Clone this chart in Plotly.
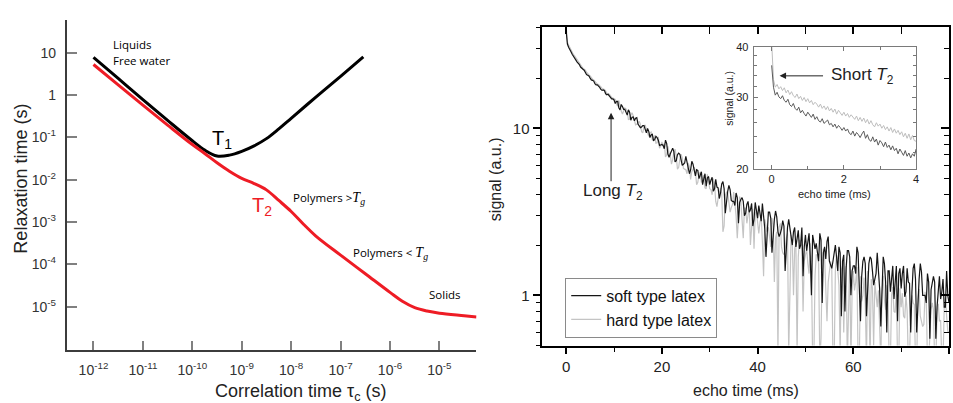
import plotly.graph_objects as go

W, H = 953, 403
FONT = "Liberation Sans, Arial, sans-serif"
NOTE_FONT = "Open Sans, sans-serif"

# ---------------- Left panel: relaxation time vs correlation time ----------------
# log10 values
tau_T1_exp = [-12, -11.5, -11, -10.5, -10, -9.75, -9.5, -9.25, -9, -8.75, -8.5, -8.25, -8, -7.5, -7, -6.54]
T1_exp = [0.89, 0.39, -0.11, -0.6, -1.08, -1.3, -1.44, -1.42, -1.33, -1.2, -1.03, -0.8, -0.55, -0.05, 0.44, 0.9]

tau_T2_exp = [-12, -11.5, -11, -10.5, -10, -9.75, -9.5, -9.25, -9, -8.75, -8.5, -8.25, -8,
              -7.75, -7.5, -7, -6.5, -6, -5.75, -5.5, -5.25, -5, -4.5, -4.25]
T2_exp = [0.72, 0.24, -0.24, -0.71, -1.17, -1.38, -1.6, -1.8, -1.97, -2.09, -2.24, -2.49, -2.75,
          -3.05, -3.33, -3.78, -4.22, -4.66, -4.87, -5.02, -5.1, -5.15, -5.21, -5.24]

left_x_exp = [-12, -11, -10, -9, -8, -7, -6, -5]
left_y_exp = [-5, -4, -3, -2, -1, 0, 1]
left_y_text = ["10<sup>-5</sup>", "10<sup>-4</sup>", "10<sup>-3</sup>", "10<sup>-2</sup>",
               "10<sup>-1</sup>", "1", "10"]

# ---------------- Right panel: echo decay (0.25 ms sampling) ----------------
echo_t = [round(0.25 * i, 2) for i in range(321)]  # 0 ... 80 ms

# values at t = 0, 0.5, 1.0, ... 80
soft_even = [
    38.0, 30.6, 28.8, 27.2, 25.7, 24.6, 23.3, 22.6, 21.5, 20.8, 20.0, 19.4, 18.5, 18.2, 17.6, 16.9, 16.8, 15.9, 15.6, 15.0, 14.8,
    14.5, 13.3, 13.9, 13.0, 12.4, 12.9, 11.2, 11.7, 11.5, 10.6, 10.1, 10.4, 9.9, 10.0, 8.8, 9.2, 8.6, 8.8, 7.9, 8.0,
    7.55, 8.1, 6.7, 7.45, 7.25, 6.4, 7.1, 6.5, 6.1, 6.8, 5.6, 5.65, 6.1, 5.2, 5.6, 5.25, 4.6, 5.35, 5.05, 4.6,
    5.1, 4.35, 4.45, 3.8, 4.65, 4.35, 3.7, 4.55, 3.7, 3.65, 4.1, 2.7, 3.75, 3.65, 3.1, 3.65, 3.25, 2.6, 3.6, 2.9,
    3.0, 3.55, 2.5, 2.65, 3.15, 1.8, 2.85, 2.95, 2.25, 2.5, 2.6, 2.0, 2.85, 2.15, 2.4, 1.95, 2.45, 2.0, 1.3, 2.3,
    2.2, 1.7, 2.3, 1.9, 1.75, 2.35, 0.9, 1.95, 2.1, 1.6, 1.45, 1.85, 1.7, 1.95, 0.75, 1.75, 1.45, 1.85, 1.0, 1.5,
    1.35, 1.8, 0.7, 1.6, 1.55, 1.15, 1.7, 1.4, 1.25, 1.8, 1.1, 1.2, 1.55, 0.6, 1.4, 1.25, 0.95, 1.5, 1.35, 1.1,
    1.5, 1.05, 1.2, 0.6, 1.45, 1.25, 0.9, 1.55, 1.0, 1.0, 1.35, 0.55, 1.2, 1.2, 0.85, 1.3, 1.05, 0.85, 1.4, 0.9,
]
# values at t = 0.25, 0.75, ... 79.75
soft_odd = [
    32.0, 29.9, 27.8, 26.6, 25.0, 24.1, 22.8, 22.3, 21.0, 20.6, 19.5, 19.2, 18.2, 18.0, 17.1, 17.0, 16.1, 16.0, 15.1, 15.0,
    14.1, 14.5, 12.9, 13.5, 13.0, 12.0, 12.5, 11.65, 11.1, 11.6, 10.3, 10.2, 10.4, 9.4, 9.6, 9.15, 8.4, 8.95, 8.5, 8.0,
    7.9, 8.5, 7.0, 7.05, 7.6, 6.3, 6.95, 7.0, 6.0, 6.2, 6.25, 5.35, 6.35, 5.45, 5.65, 5.0, 5.5, 4.9, 4.5, 5.15,
    4.9, 4.2, 4.95, 4.4, 4.1, 4.8, 3.1, 4.2, 4.3, 3.65, 3.45, 3.85, 3.6, 3.85, 3.0, 3.5, 3.15, 3.55, 2.85, 3.1,
    3.45, 2.78, 2.9, 1.7, 3.15, 2.9, 2.35, 3.2, 2.4, 2.35, 2.8, 1.4, 2.55, 2.5, 2.0, 2.55, 2.2, 1.9, 2.55, 1.95,
    1.85, 2.35, 1.0, 2.1, 2.05, 1.6, 2.15, 1.8, 1.65, 2.25, 1.5, 1.6, 2.0, 1.4, 1.8, 1.6, 0.8, 1.85, 1.7, 1.4,
    1.5, 1.95, 1.2, 1.3, 1.7, 0.75, 1.55, 1.65, 1.15, 1.35, 1.45, 0.65, 1.7, 1.2, 1.4, 1.05, 1.5, 1.15, 0.7, 1.45,
    1.35, 0.98, 1.45, 1.18, 1.05, 1.55, 0.6, 1.25, 1.38, 1.0, 0.9, 1.2, 1.08, 1.3, 0.55, 1.15, 0.95, 1.25, 0.85, 1.0,
]

hard_even = [
    40.5, 31.6, 29.5, 27.7, 26.5, 25.0, 24.1, 22.9, 22.3, 21.1, 20.6, 19.7, 19.1, 18.4, 18.1, 17.3, 17.1, 16.2, 16.0, 15.3, 15.1,
    14.1, 14.7, 12.7, 12.6, 13.1, 11.3, 12.0, 11.9, 10.5, 10.7, 10.6, 9.4, 10.5, 9.3, 9.4, 8.5, 9.05, 8.2, 7.6, 8.3,
    8.1, 6.95, 7.05, 6.1, 7.25, 6.8, 5.85, 7.0, 5.75, 5.65, 6.2, 4.95, 5.65, 5.5, 4.75, 5.45, 4.85, 4.4, 5.3, 4.35,
    4.0, 4.7, 3.4, 4.2, 4.1, 2.6, 4.15, 3.6, 3.35, 4.15, 3.0, 3.15, 3.65, 2.2, 3.3, 3.05, 2.0, 3.3, 3.05, 2.6,
    2.75, 2.1, 2.85, 2.4, 2.15, 2.9, 1.2, 2.4, 2.55, 1.95, 1.75, 2.2, 0.45, 2.3, 1.0, 2.05, 1.7, 2.1, 0.8, 1.75,
    1.55, 2.05, 0.4, 1.3, 1.75, 0.4, 1.55, 1.7, 0.7, 1.35, 1.45, 0.4, 1.75, 1.15, 1.4, 0.6, 1.5, 1.05, 0.4, 1.4,
    1.2, 0.4, 1.3, 1.0, 0.9, 1.4, 0.4, 1.1, 1.2, 0.85, 0.45, 1.05, 0.95, 1.15, 0.4, 1.0, 0.8, 1.1, 0.4, 0.85,
    0.75, 1.0, 0.4, 0.9, 0.9, 0.4, 0.95, 0.75, 0.65, 1.05, 0.4, 0.65, 0.9, 0.4, 0.8, 0.7, 0.4, 0.85, 0.75, 0.6,
]
hard_odd = [
    32.8, 30.5, 28.7, 27.2, 25.8, 24.6, 23.5, 22.6, 21.7, 20.9, 20.1, 19.5, 18.8, 18.3, 17.7, 17.2, 16.7, 16.1, 15.7, 15.2,
    14.9, 13.55, 13.45, 12.2, 13.25, 12.6, 11.35, 12.4, 10.95, 10.6, 11.05, 9.55, 10.2, 9.85, 8.95, 9.5, 8.8, 8.15, 8.9, 7.85,
    7.85, 6.75, 7.8, 6.95, 6.5, 7.5, 5.7, 6.55, 6.65, 5.7, 5.35, 5.9, 5.5, 5.85, 4.6, 5.3, 4.75, 5.25, 4.35, 4.6,
    4.3, 5.0, 3.65, 3.8, 4.4, 2.4, 3.95, 4.1, 3.15, 3.5, 3.65, 2.2, 3.9, 3.0, 3.35, 2.7, 3.4, 2.75, 1.9, 3.2,
    2.35, 2.95, 1.3, 2.6, 2.55, 1.95, 2.65, 2.2, 0.45, 2.7, 1.8, 1.9, 2.35, 1.0, 2.1, 1.9, 0.45, 2.15, 1.95, 1.6,
    1.9, 1.35, 1.5, 0.4, 1.75, 1.55, 0.55, 1.9, 1.2, 1.2, 1.6, 0.4, 1.4, 1.4, 0.45, 1.5, 1.2, 0.4, 1.6, 1.05,
    1.07, 1.48, 0.4, 0.92, 1.28, 0.4, 1.11, 1.25, 0.5, 0.97, 1.07, 0.4, 1.31, 0.82, 1.03, 0.4, 1.12, 0.79, 0.4, 1.1,
    1.03, 0.73, 0.81, 0.4, 1.0, 0.88, 0.4, 1.09, 0.68, 0.67, 0.94, 0.4, 0.82, 0.82, 0.4, 0.89, 0.71, 0.4, 0.97, 0.61,
]


def interleave(even, odd):
    out = []
    for a, b in zip(even, odd):
        out += [a, b]
    out.append(even[-1])
    return out


soft_signal = interleave(soft_even, soft_odd)
hard_signal = interleave(hard_even, hard_odd)

# ---------------- Inset: first 4 ms ----------------
inset_t = [round(0.05 * i, 2) for i in range(81)]
soft_inset = [
    36.0, 31.8, 30.4, 30.9, 30.1, 29.8, 30.3, 29.5, 29.2, 29.7,
    28.8, 28.5, 29.0, 28.2, 27.9, 28.4, 27.5, 27.9, 27.4, 27.0,
    27.6, 27.1, 26.8, 27.3, 26.5, 26.9, 26.3, 26.1, 26.6, 25.9,
    26.2, 26.4, 25.7, 25.9, 25.4, 25.8, 25.2, 25.6, 25.3, 24.9,
    25.3, 24.8, 25.1, 24.5, 24.3, 24.8, 24.1, 24.6, 24.3, 23.9,
    24.4, 24.8, 23.8, 24.3, 23.6, 23.4, 24.0, 23.3, 23.7, 22.9,
    23.5, 23.2, 22.7, 23.3, 22.6, 22.9, 22.3, 22.8, 22.2, 22.5,
    21.8, 22.4, 22.0, 21.6, 22.2, 21.5, 21.9, 21.3, 21.8, 21.5,
    22.4,
]
hard_inset = [
    41.0, 33.2, 31.8, 32.3, 31.5, 31.9, 31.2, 31.7, 30.8, 31.3,
    30.5, 31.0, 30.3, 30.0, 30.6, 29.8, 30.2, 29.5, 30.0, 29.3,
    29.8, 29.1, 29.5, 28.8, 29.2, 28.9, 28.4, 28.9, 28.2, 28.6,
    28.0, 28.5, 27.8, 28.2, 27.6, 28.1, 27.3, 27.9, 27.5, 27.1,
    27.6, 27.0, 27.4, 26.8, 27.2, 26.9, 26.5, 27.0, 26.3, 26.8,
    26.2, 26.7, 26.0, 26.5, 25.8, 26.3, 25.7, 25.4, 26.0, 25.5,
    25.8, 25.2, 25.6, 25.0, 25.4, 24.8, 25.3, 24.6, 25.1, 24.5,
    24.9, 24.3, 24.7, 24.0, 24.5, 23.8, 24.4, 23.6, 24.2, 23.5,
    23.4,
]

main_x_ticks = [0, 20, 40, 60, 80]
main_x_minor = [10, 30, 50, 70]
main_y_ticks = [1, 10]
main_y_minor = [0.5, 0.6, 0.7, 0.8, 0.9, 2, 3, 4, 5, 6, 7, 8, 9, 20, 30, 40]
inset_x_ticks = [0, 2, 4]
inset_y_ticks = [20, 30, 40]

# ---------------- Figure ----------------
fig = go.Figure()

fig.add_trace(go.Scatter(x=[10 ** e for e in tau_T1_exp], y=[10 ** e for e in T1_exp],
                         mode="lines", line=dict(color="black", width=3, shape="spline", smoothing=1),
                         xaxis="x", yaxis="y", showlegend=False))
fig.add_trace(go.Scatter(x=[10 ** e for e in tau_T2_exp], y=[10 ** e for e in T2_exp],
                         mode="lines", line=dict(color="#ee1c25", width=3, shape="spline", smoothing=1),
                         xaxis="x", yaxis="y", showlegend=False))

fig.add_trace(go.Scatter(x=echo_t, y=hard_signal, mode="lines", name="hard type latex",
                         line=dict(color="#c4c4c4", width=1.2), xaxis="x2", yaxis="y2", legendrank=2))
fig.add_trace(go.Scatter(x=echo_t, y=soft_signal, mode="lines", name="soft type latex",
                         line=dict(color="#161616", width=1.2), xaxis="x2", yaxis="y2", legendrank=1))

fig.add_trace(go.Scatter(x=inset_t, y=hard_inset, mode="lines", line=dict(color="#bdbdbd", width=1),
                         xaxis="x3", yaxis="y3", showlegend=False))
fig.add_trace(go.Scatter(x=inset_t, y=soft_inset, mode="lines", line=dict(color="#5a5a5a", width=1),
                         xaxis="x3", yaxis="y3", showlegend=False))

# dummy trace to realise the mirrored (inside-tick) axes of the main right panel
fig.add_trace(go.Scatter(x=[None], y=[None], xaxis="x5", yaxis="y5", showlegend=False, hoverinfo="skip"))


def dom_x(a, b):
    return [a / W, b / W]


def dom_y(top, bottom):
    return [1 - bottom / H, 1 - top / H]


tickfont_left = dict(family=FONT, size=14, color="#333333")
tickfont_right = dict(family=FONT, size=15, color="#222222")

fig.update_layout(
    width=W, height=H, autosize=False,
    margin=dict(l=0, r=0, t=0, b=0),
    paper_bgcolor="white", plot_bgcolor="rgba(0,0,0,0)",
    font=dict(family=FONT, color="black"),
    xaxis=dict(type="log", domain=dom_x(67, 478), anchor="y", range=[-12.54, -4.25],
               tickvals=[10 ** e for e in left_x_exp],
               ticktext=["10<sup>%d</sup>" % e for e in left_x_exp],
               ticks="inside", ticklen=9, tickwidth=1.5, tickcolor="#808080",
               showline=True, linecolor="#3c3c3c", linewidth=2, showgrid=False, zeroline=False,
               tickfont=tickfont_left, ticklabelstandoff=6),
    yaxis=dict(type="log", domain=dom_y(14, 355), anchor="x", range=[-6.03, 1.78],
               tickvals=[10 ** e for e in left_y_exp], ticktext=left_y_text,
               ticks="inside", ticklen=10, tickwidth=1.5, tickcolor="#808080",
               showline=True, linecolor="#3c3c3c", linewidth=2, showgrid=False, zeroline=False,
               tickfont=tickfont_left, ticklabelstandoff=6),
    xaxis2=dict(domain=dom_x(544, 952), anchor="y2", range=[-5, 80],
                tickvals=main_x_ticks, ticks="outside", ticklen=7, tickwidth=1.5, tickcolor="black",
                minor=dict(tickvals=main_x_minor, ticks="outside", ticklen=5, tickwidth=1.2, tickcolor="black"),
                showline=True, linecolor="black", linewidth=1.5, mirror=True,
                showgrid=False, zeroline=False, tickfont=tickfont_right),
    yaxis2=dict(type="log", domain=dom_y(22, 350), anchor="x2", range=[-0.301, 1.605],
                tickvals=main_y_ticks, ticktext=["1", "10"],
                ticks="outside", ticklen=8, tickwidth=1.5, tickcolor="black",
                minor=dict(tickvals=main_y_minor, ticks="outside", ticklen=5, tickwidth=1.2, tickcolor="black"),
                showline=True, linecolor="black", linewidth=1.5, mirror=True,
                showgrid=False, zeroline=False, tickfont=tickfont_right),
    xaxis5=dict(overlaying="x2", anchor="y2", side="top", range=[-5, 80],
                tickvals=main_x_ticks, ticks="inside", ticklen=7, tickwidth=1.5, tickcolor="black",
                minor=dict(tickvals=main_x_minor, ticks="inside", ticklen=7, tickwidth=1.2, tickcolor="black"),
                showticklabels=False, showline=False, showgrid=False, zeroline=False),
    yaxis5=dict(overlaying="y2", anchor="x2", side="right", type="log", range=[-0.301, 1.605],
                tickvals=main_y_ticks, ticks="inside", ticklen=8, tickwidth=1.5, tickcolor="black",
                minor=dict(tickvals=main_y_minor, ticks="inside", ticklen=5, tickwidth=1.2, tickcolor="black"),
                showticklabels=False, showline=False, showgrid=False, zeroline=False),
    xaxis3=dict(domain=dom_x(756, 919), anchor="y3", range=[-0.5, 4],
                tickvals=inset_x_ticks, ticks="inside", ticklen=4, tickwidth=1, tickcolor="#777777",
                minor=dict(tickvals=[1, 3], ticks="inside", ticklen=3, tickwidth=1, tickcolor="#777777"),
                showline=True, linecolor="#7a7a7a", linewidth=1, mirror="ticks",
                showgrid=False, zeroline=False, tickfont=dict(family=FONT, size=11, color="#222222")),
    yaxis3=dict(type="log", domain=dom_y(42, 168), anchor="x3", range=[1.30103, 1.60206],
                tickvals=inset_y_ticks, ticks="inside", ticklen=4, tickwidth=1, tickcolor="#777777",
                minor=dict(tickvals=[22, 24, 26, 28, 32, 34, 36, 38], ticks="inside", ticklen=3,
                           tickwidth=1, tickcolor="#777777"),
                showline=True, linecolor="#7a7a7a", linewidth=1, mirror="ticks",
                showgrid=False, zeroline=False, tickfont=dict(family=FONT, size=11, color="#222222"),
                ticklabelstandoff=2),
    legend=dict(x=567 / W, y=1 - 280 / H, xanchor="left", yanchor="top",
                bgcolor="white", bordercolor="#8a8a8a", borderwidth=1,
                font=dict(family=FONT, size=16, color="#111111"), tracegroupgap=0,
                itemwidth=30),
    showlegend=True,
)


def note(px, py, text, size=12, color="black", family=FONT, xanchor="left", yanchor="middle", angle=0):
    return dict(x=px / W, y=1 - py / H, xref="paper", yref="paper", text=text, showarrow=False,
                font=dict(family=family, size=size, color=color), xanchor=xanchor, yanchor=yanchor,
                textangle=angle)


TG = "<span style='font-family:Liberation Serif, serif; font-size:14px'><i>T</i><sub><i>g</i></sub></span>"

annotations = [
    note(111, 40, "Liquids", size=11.5, family=NOTE_FONT),
    note(111, 56, "Free water", size=11.5, family=NOTE_FONT),
    note(211, 138, "T<sub>1</sub>", size=20),
    note(251, 207, "T<sub>2</sub>", size=20, color="#ee1c25"),
    note(292, 198, "Polymers &gt;" + TG, size=11.5, family=NOTE_FONT),
    note(352, 255, "Polymers &lt; " + TG, size=11.5, family=NOTE_FONT),
    note(428, 297, "Solids", size=11.5, family=NOTE_FONT),
    note(21, 178, "Relaxation time (s)", size=18, color="#222222", xanchor="center", angle=-90),
    note(301, 398, "Correlation time τ<sub>c</sub> (s)", size=18, color="#222222", xanchor="center"),
    note(497, 178, "signal (a.u.)", size=16, color="#222222", xanchor="center", angle=-90),
    note(748, 396, "echo time (ms)", size=16, color="#222222", xanchor="center"),
    note(583, 192, "Long <i>T</i><sub>2</sub>", size=17, color="#222222"),
    note(832, 72, "Short <i>T</i><sub>2</sub>", size=17, color="#222222"),
    note(731, 95, "signal (a.u.)", size=10.5, color="#222222", xanchor="center", angle=-90),
    note(837, 194, "echo time (ms)", size=11, color="#222222", xanchor="center"),
    dict(x=613 / W, y=1 - 110 / H, xref="paper", yref="paper", text="", showarrow=True,
         ax=0, ay=70, arrowhead=2, arrowsize=1.3, arrowwidth=1, arrowcolor="#222222"),
    dict(x=782 / W, y=1 - 72 / H, xref="paper", yref="paper", text="", showarrow=True,
         ax=45, ay=0, arrowhead=2, arrowsize=1.3, arrowwidth=1, arrowcolor="#222222"),
]
fig.update_layout(annotations=annotations)

fig.write_html("out.html")
